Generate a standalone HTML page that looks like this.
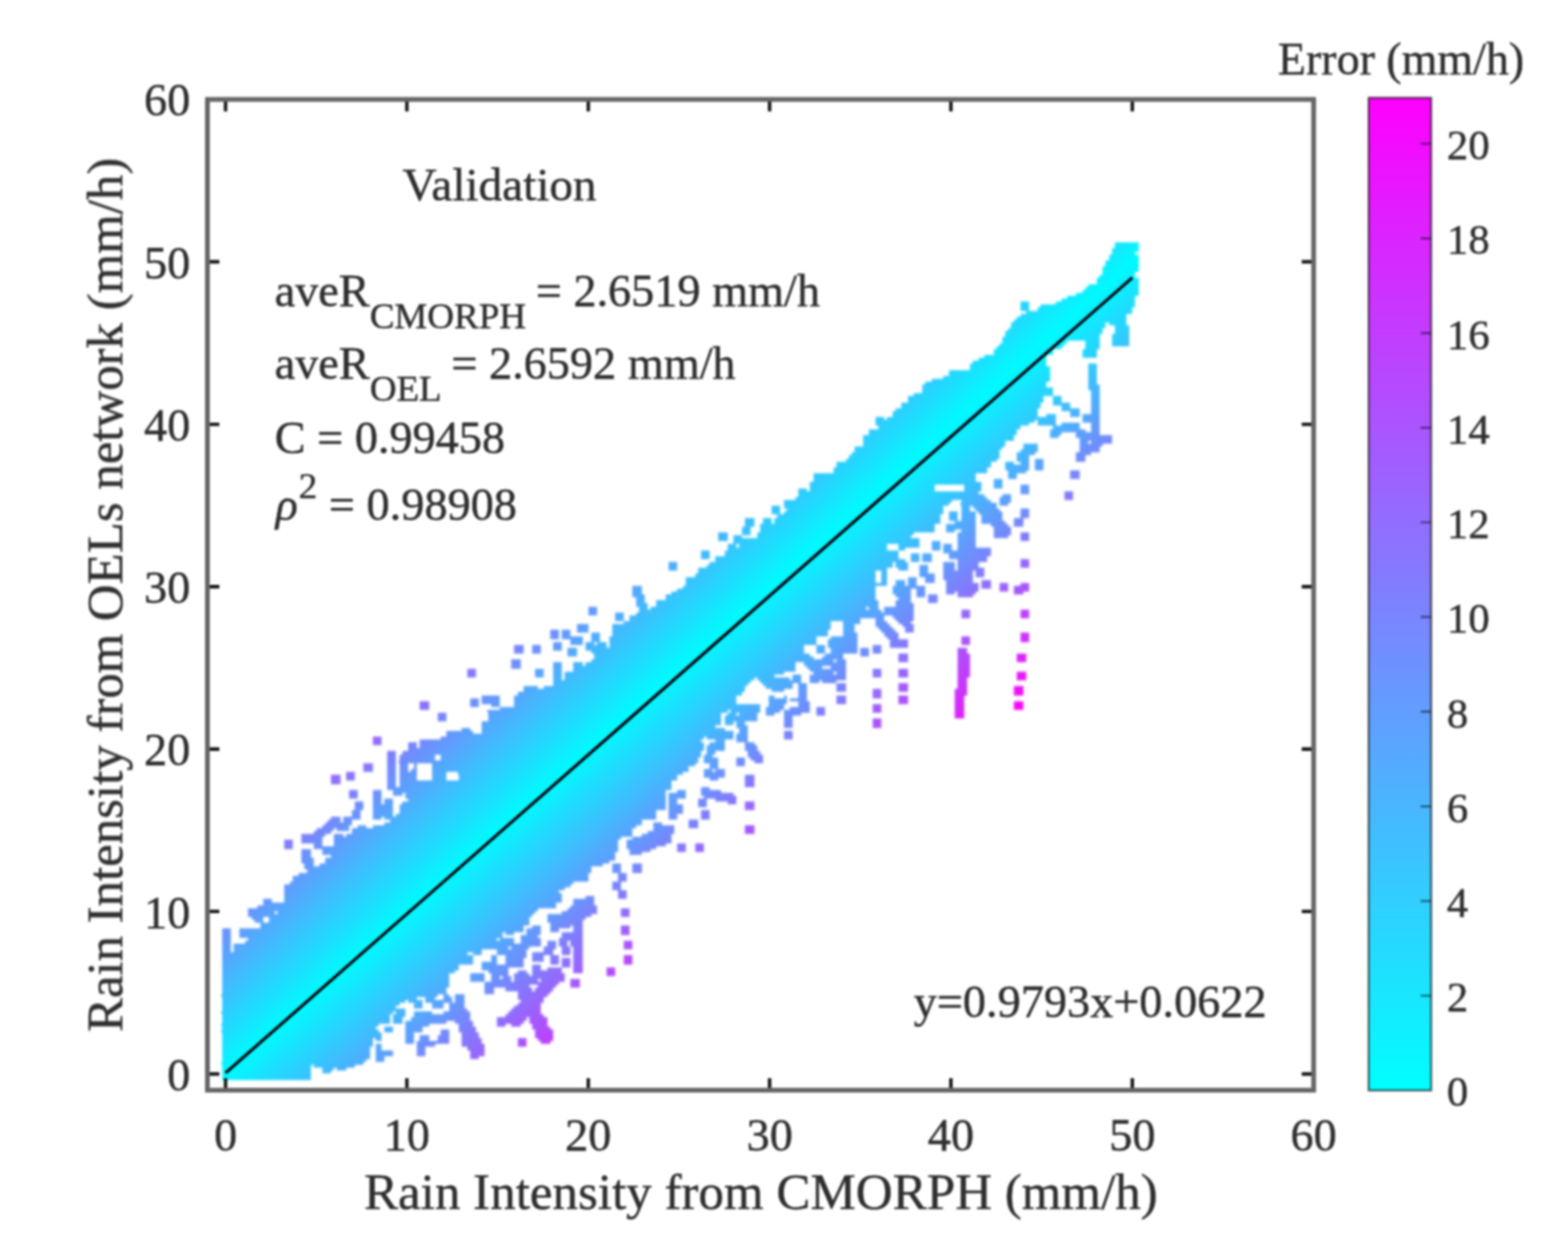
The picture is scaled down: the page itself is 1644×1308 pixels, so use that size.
<!DOCTYPE html>
<html lang="en">
<head>
<meta charset="utf-8">
<title>Validation scatter: Rain Intensity from OELs network vs CMORPH</title>
<style>
html,body{margin:0;padding:0;background:#fff;}
body{width:1644px;height:1308px;overflow:hidden;}
svg{display:block;}
text{font-family:'Liberation Serif', serif;fill:#2e2e2e;stroke:#2e2e2e;stroke-width:0.45px;stroke-linejoin:round;}
</style>
</head>
<body>
<svg width="1644" height="1308" viewBox="0 0 1644 1308">
<rect x="0" y="0" width="1644" height="1308" fill="#ffffff"/>
<defs>
<filter id="soft" x="-2%" y="-2%" width="104%" height="104%" color-interpolation-filters="sRGB"><feGaussianBlur stdDeviation="1.0"/></filter>
<filter id="softer" x="-2%" y="-2%" width="104%" height="104%" color-interpolation-filters="sRGB"><feGaussianBlur stdDeviation="1.8"/></filter>
</defs>
<g filter="url(#softer)">
<defs><linearGradient id="sg" gradientUnits="userSpaceOnUse" x1="711.84" y1="700.00" x2="889.24" y2="898.14" spreadMethod="reflect"><stop offset="0.0000" stop-color="#00faff"/><stop offset="1.0000" stop-color="#fa05fa"/></linearGradient></defs>
<path d="M232.5 973.4h9.3v24.8h-9.3zM232.5 1116h93v15.5h-93zM232.5 1112.9h148.8v3.1h-148.8zM232.5 1109.8h151.9v3.1h-151.9zM232.5 1097.4h155v12.4h-155zM232.5 1088.1h158.1v9.3h-158.1zM232.5 1075.7h161.2v3.1h-161.2zM232.5 1072.6h164.3v3.1h-164.3zM232.5 1078.8h164.3v3.1h-164.3zM232.5 1081.9h167.4v6.2h-167.4zM232.5 1063.3h176.7v9.3h-176.7zM232.5 1060.2h179.8v3.1h-179.8zM232.5 1054h182.9v3.1h-182.9zM232.5 1050.9h186v3.1h-186zM232.5 1047.8h192.2v3.1h-192.2zM232.5 1057.1h192.2v3.1h-192.2zM232.5 1044.7h204.6v3.1h-204.6zM232.5 1041.6h226.3v3.1h-226.3zM232.5 1035.4h235.6v6.2h-235.6zM232.5 1019.9h238.7v15.5h-238.7zM232.5 1016.8h244.9v3.1h-244.9zM232.5 1010.6h248v6.2h-248zM232.5 998.2h257.3v3.1h-257.3zM232.5 1001.3h263.5v9.3h-263.5zM244.9 995.1h260.4v3.1h-260.4zM244.9 992h288.3v3.1h-288.3zM244.9 988.9h322.4v3.1h-322.4zM251.1 976.5h275.9v6.2h-275.9zM251.1 973.4h297.6v3.1h-297.6zM257.3 985.8h282.1v3.1h-282.1zM260.4 954.8h27.9v3.1h-27.9zM260.4 982.7h260.4v3.1h-260.4zM260.4 957.9h297.6v3.1h-297.6zM260.4 951.7h303.8v3.1h-303.8zM263.5 961h12.4v3.1h-12.4zM266.6 964.1h9.3v3.1h-9.3zM269.7 948.6h313.1v3.1h-313.1zM272.8 970.3h275.9v3.1h-275.9zM272.8 967.2h282.1v3.1h-282.1zM275.9 942.4h9.3v3.1h-9.3zM275.9 945.5h306.9v3.1h-306.9zM282.1 961h272.8v6.2h-272.8zM291.4 954.8h269.7v3.1h-269.7zM297.6 880.4h9.3v9.3h-9.3zM297.6 933.1h288.3v3.1h-288.3zM297.6 936.2h291.4v9.3h-291.4zM297.6 930h294.5v3.1h-294.5zM297.6 926.9h300.7v3.1h-300.7zM303.8 923.8h297.6v3.1h-297.6zM306.9 917.6h310v6.2h-310zM313.1 914.5h303.8v3.1h-303.8zM316.2 889.7h9.3v9.3h-9.3zM316.2 899h12.4v6.2h-12.4zM316.2 877.3h21.7v6.2h-21.7zM316.2 874.2h24.8v3.1h-24.8zM319.3 905.2h9.3v3.1h-9.3zM319.3 908.3h300.7v3.1h-300.7zM322.4 911.4h297.6v3.1h-297.6zM328.6 883.5h9.3v3.1h-9.3zM328.6 871.1h18.6v3.1h-18.6zM328.6 1116h43.4v3.1h-43.4zM328.6 886.6h319.3v3.1h-319.3zM331.7 868h18.6v3.1h-18.6zM334.8 905.2h297.6v3.1h-297.6zM337.9 1122.2h9.3v3.1h-9.3zM337.9 1119.1h12.4v3.1h-12.4zM337.9 864.9h27.9v3.1h-27.9zM337.9 892.8h306.9v3.1h-306.9zM337.9 889.7h310v3.1h-310zM341 861.8h27.9v3.1h-27.9zM341 902.1h297.6v3.1h-297.6zM341 899h303.8v3.1h-303.8zM344.1 858.7h12.4v3.1h-12.4zM347.2 812.2h9.3v9.3h-9.3zM347.2 855.6h9.3v3.1h-9.3zM347.2 895.9h297.6v3.1h-297.6zM350.3 874.2h9.3v3.1h-9.3zM350.3 880.4h297.6v6.2h-297.6zM350.3 877.3h300.7v3.1h-300.7zM353.4 1119.1h9.3v3.1h-9.3zM353.4 868h12.4v3.1h-12.4zM359.6 858.7h9.3v3.1h-9.3zM359.6 855.6h18.6v3.1h-18.6zM362.7 809.1h9.3v9.3h-9.3zM362.7 874.2h300.7v3.1h-300.7zM365.8 827.7h9.3v9.3h-9.3zM368.9 849.4h9.3v6.2h-9.3zM368.9 868h294.5v6.2h-294.5zM372 840.1h9.3v9.3h-9.3zM375.1 864.9h9.3v3.1h-9.3zM381.3 799.8h9.3v9.3h-9.3zM390.6 771.9h9.3v9.3h-9.3zM390.6 827.7h9.3v15.5h-9.3zM390.6 855.6h9.3v3.1h-9.3zM390.6 843.2h21.7v12.4h-21.7zM390.6 864.9h275.9v3.1h-275.9zM393.7 1088.1h6.2v3.1h-6.2zM393.7 1094.3h6.2v6.2h-6.2zM393.7 1106.7h9.3v6.2h-9.3zM393.7 1100.5h18.6v6.2h-18.6zM403 837h9.3v6.2h-9.3zM403 1075.7h9.3v6.2h-9.3zM403 861.8h269.7v3.1h-269.7zM403 855.6h285.2v3.1h-285.2zM406.1 787.4h9.3v37.2h-9.3zM406.1 824.6h297.6v3.1h-297.6zM409.2 858.7h263.5v3.1h-263.5zM412.3 830.8h9.3v3.1h-9.3zM412.3 1066.4h9.3v6.2h-9.3zM412.3 1063.3h12.4v3.1h-12.4zM412.3 827.7h285.2v3.1h-285.2zM415.4 1060.2h9.3v3.1h-9.3zM415.4 852.5h272.8v3.1h-272.8zM418.5 799.8h9.3v9.3h-9.3zM418.5 809.1h18.6v9.3h-18.6zM418.5 790.5h37.2v6.2h-37.2zM418.5 849.4h269.7v3.1h-269.7zM418.5 843.2h279v6.2h-279zM418.5 818.4h285.2v6.2h-285.2zM418.5 796.7h313.1v3.1h-313.1zM421.6 840.1h275.9v3.1h-275.9zM421.6 787.4h313.1v3.1h-313.1zM424.7 1081.9h9.3v12.4h-9.3zM424.7 1075.7h18.6v6.2h-18.6zM424.7 1072.6h24.8v3.1h-24.8zM424.7 1069.5h43.4v3.1h-43.4zM424.7 830.8h272.8v6.2h-272.8zM427.8 778.1h9.3v6.2h-9.3zM427.8 1047.8h15.5v3.1h-15.5zM427.8 837h269.7v3.1h-269.7zM427.8 784.3h310v3.1h-310zM430.9 806h6.2v3.1h-6.2zM430.9 1066.4h62v3.1h-62zM434 799.8h3.1v6.2h-3.1zM434 1050.9h9.3v6.2h-9.3zM434 1060.2h18.6v3.1h-18.6zM434 1063.3h58.9v3.1h-58.9zM437.1 1097.4h9.3v9.3h-9.3zM437.1 1094.3h18.6v3.1h-18.6zM437.1 1091.2h34.1v3.1h-34.1zM440.2 734.7h9.3v9.3h-9.3zM440.2 1085h9.3v6.2h-9.3zM440.2 775h294.5v3.1h-294.5zM440.2 778.1h297.6v6.2h-297.6zM446.4 1044.7h9.3v3.1h-9.3zM446.4 1047.8h27.9v3.1h-27.9zM452.6 1050.9h12.4v6.2h-12.4zM452.6 809.1h15.5v9.3h-15.5zM452.6 802.9h269.7v6.2h-269.7zM452.6 799.8h275.9v3.1h-275.9zM458.8 747.1h9.3v9.3h-9.3zM458.8 1085h12.4v6.2h-12.4zM461.9 1078.8h9.3v6.2h-9.3zM461.9 793.6h269.7v3.1h-269.7zM461.9 790.5h272.8v3.1h-272.8zM461.9 771.9h275.9v3.1h-275.9zM465 1041.6h6.2v3.1h-6.2zM465 1044.7h9.3v3.1h-9.3zM465 1060.2h27.9v3.1h-27.9zM468.1 765.7h27.9v3.1h-27.9zM468.1 768.8h300.7v3.1h-300.7zM471.2 1050.9h15.5v6.2h-15.5zM471.2 1057.1h18.6v3.1h-18.6zM477.4 1041.6h9.3v9.3h-9.3zM477.4 1069.5h18.6v3.1h-18.6zM480.5 1072.6h15.5v3.1h-15.5zM480.5 1075.7h18.6v6.2h-18.6zM480.5 812.2h229.4v6.2h-229.4zM480.5 809.1h235.6v3.1h-235.6zM483.6 762.6h9.3v3.1h-9.3zM483.6 1081.9h18.6v6.2h-18.6zM483.6 1088.1h21.7v6.2h-21.7zM483.6 1094.3h24.8v3.1h-24.8zM489.8 700.6h9.3v9.3h-9.3zM489.8 1097.4h18.6v3.1h-18.6zM492.9 731.6h9.3v9.3h-9.3zM492.9 1106.7h9.3v3.1h-9.3zM492.9 1019.9h15.5v9.3h-15.5zM492.9 1100.5h15.5v6.2h-15.5zM496 998.2h9.3v3.1h-9.3zM505.3 1007.5h15.5v3.1h-15.5zM505.3 728.5h18.6v9.3h-18.6zM505.3 1013.7h27.9v3.1h-27.9zM505.3 1010.6h43.4v3.1h-43.4zM505.3 759.5h244.9v3.1h-244.9zM505.3 756.4h251.1v3.1h-251.1zM505.3 762.6h254.2v3.1h-254.2zM505.3 765.7h263.5v3.1h-263.5zM508.4 1035.4h9.3v6.2h-9.3zM508.4 1032.3h46.5v3.1h-46.5zM508.4 1029.2h77.5v3.1h-77.5zM511.5 1016.8h21.7v3.1h-21.7zM511.5 747.1h244.9v9.3h-244.9zM511.5 744h251.1v3.1h-251.1zM514.6 1001.3h6.2v6.2h-6.2zM514.6 737.8h9.3v3.1h-9.3zM514.6 1023h9.3v3.1h-9.3zM514.6 1019.9h18.6v3.1h-18.6zM514.6 1026.1h21.7v3.1h-21.7zM520.8 1072.6h9.3v3.1h-9.3zM520.8 1069.5h27.9v3.1h-27.9zM520.8 995.1h31v6.2h-31zM520.8 1066.4h31v3.1h-31zM523.9 982.7h15.5v3.1h-15.5zM523.9 740.9h272.8v3.1h-272.8zM527 1023h9.3v3.1h-9.3zM530.1 976.5h9.3v3.1h-9.3zM530.1 1004.4h18.6v6.2h-18.6zM530.1 1001.3h21.7v3.1h-21.7zM530.1 1035.4h27.9v3.1h-27.9zM530.1 1063.3h40.3v3.1h-40.3zM533.2 1060.2h34.1v3.1h-34.1zM536.3 691.3h9.3v9.3h-9.3zM536.3 1072.6h9.3v3.1h-9.3zM536.3 992h18.6v3.1h-18.6zM536.3 1057.1h31v3.1h-31zM539.4 675.8h9.3v9.3h-9.3zM539.4 1019.9h15.5v3.1h-15.5zM539.4 1026.1h24.8v3.1h-24.8zM539.4 1054h27.9v3.1h-27.9zM539.4 1023h52.7v3.1h-52.7zM539.4 728.5h232.5v9.3h-232.5zM539.4 737.8h257.3v3.1h-257.3zM542.5 1016.8h9.3v3.1h-9.3zM542.5 1088.1h9.3v9.3h-9.3zM542.5 1050.9h24.8v3.1h-24.8zM542.5 1044.7h27.9v3.1h-27.9zM542.5 1041.6h31v3.1h-31zM542.5 1038.5h34.1v3.1h-34.1zM542.5 725.4h235.6v3.1h-235.6zM545.6 979.6h18.6v3.1h-18.6zM545.6 982.7h21.7v6.2h-21.7zM545.6 1047.8h24.8v3.1h-24.8zM548.7 719.2h15.5v3.1h-15.5zM548.7 722.3h232.5v3.1h-232.5zM551.8 973.4h15.5v6.2h-15.5zM554.9 1066.4h18.6v6.2h-18.6zM558 675.8h9.3v9.3h-9.3zM558 970.3h9.3v3.1h-9.3zM558 1010.6h9.3v6.2h-9.3zM558 1001.3h12.4v6.2h-12.4zM558 1072.6h15.5v3.1h-15.5zM558 1075.7h18.6v3.1h-18.6zM558 998.2h21.7v3.1h-21.7zM558 1016.8h31v3.1h-31zM558 1019.9h34.1v3.1h-34.1zM561.1 700.6h9.3v9.3h-9.3zM561.1 1035.4h18.6v3.1h-18.6zM561.1 1078.8h18.6v9.3h-18.6zM564.2 1088.1h15.5v3.1h-15.5zM564.2 1032.3h18.6v3.1h-18.6zM567.3 1091.2h9.3v3.1h-9.3zM567.3 1026.1h24.8v3.1h-24.8zM570.4 995.1h9.3v3.1h-9.3zM570.4 992h12.4v3.1h-12.4zM570.4 719.2h210.8v3.1h-210.8zM573.5 985.8h9.3v6.2h-9.3zM573.5 1013.7h15.5v3.1h-15.5zM573.5 964.1h37.2v3.1h-37.2zM573.5 961h40.3v3.1h-40.3zM573.5 957.9h46.5v3.1h-46.5zM576.6 660.3h9.3v9.3h-9.3zM576.6 973.4h9.3v3.1h-9.3zM576.6 1001.3h9.3v9.3h-9.3zM576.6 970.3h21.7v3.1h-21.7zM576.6 967.2h34.1v3.1h-34.1zM579.7 672.7h9.3v9.3h-9.3zM579.7 694.4h9.3v18.6h-9.3zM579.7 716.1h204.6v3.1h-204.6zM579.7 713h207.7v3.1h-207.7zM585.9 985.8h9.3v6.2h-9.3zM585.9 982.7h24.8v3.1h-24.8zM589 660.3h9.3v6.2h-9.3zM589 992h9.3v9.3h-9.3zM589 1004.4h9.3v9.3h-9.3zM589 666.5h21.7v3.1h-21.7zM589 976.5h21.7v6.2h-21.7zM589 954.8h37.2v3.1h-37.2zM592.1 709.9h198.4v3.1h-198.4zM592.1 706.8h220.1v3.1h-220.1zM592.1 703.7h229.4v3.1h-229.4zM595.2 678.9h9.3v9.3h-9.3zM595.2 951.7h31v3.1h-31zM598.3 1026.1h9.3v9.3h-9.3zM598.3 669.6h12.4v6.2h-12.4zM598.3 985.8h12.4v6.2h-12.4zM598.3 948.6h27.9v3.1h-27.9zM601.4 694.4h9.3v3.1h-9.3zM601.4 970.3h9.3v6.2h-9.3zM601.4 992h9.3v27.9h-9.3zM601.4 942.4h21.7v6.2h-21.7zM601.4 697.5h232.5v6.2h-232.5zM604.5 654.1h12.4v9.3h-12.4zM613.8 672.7h9.3v3.1h-9.3zM613.8 939.3h9.3v3.1h-9.3zM613.8 675.8h21.7v3.1h-21.7zM613.8 694.4h220.1v3.1h-220.1zM613.8 678.9h229.4v3.1h-229.4zM616.9 635.5h9.3v9.3h-9.3zM620 663.4h9.3v9.3h-9.3zM620 682h223.2v3.1h-223.2zM620 691.3h254.2v3.1h-254.2zM623.1 685.1h226.3v3.1h-226.3zM623.1 688.2h229.4v3.1h-229.4zM626.2 672.7h9.3v3.1h-9.3zM635.5 1013.7h9.3v9.3h-9.3zM638.6 675.8h204.6v3.1h-204.6zM638.6 666.5h217v9.3h-217zM641.7 905.2h9.3v9.3h-9.3zM641.7 923.8h9.3v9.3h-9.3zM641.7 660.3h226.3v6.2h-226.3zM641.7 654.1h229.4v6.2h-229.4zM644.8 641.7h9.3v9.3h-9.3zM647.9 914.5h9.3v9.3h-9.3zM647.9 933.1h9.3v9.3h-9.3zM651 951.7h9.3v9.3h-9.3zM651 970.3h9.3v9.3h-9.3zM654.1 985.8h9.3v9.3h-9.3zM654.1 1001.3h9.3v9.3h-9.3zM654.1 651h217v3.1h-217zM657.2 886.6h31v3.1h-31zM657.2 883.5h40.3v3.1h-40.3zM657.2 880.4h46.5v3.1h-46.5zM660.3 892.8h12.4v3.1h-12.4zM660.3 889.7h21.7v3.1h-21.7zM660.3 647.9h241.8v3.1h-241.8zM660.3 644.8h266.6v3.1h-266.6zM663.4 613.8h9.3v9.3h-9.3zM663.4 905.2h9.3v9.3h-9.3zM663.4 623.1h12.4v3.1h-12.4zM663.4 877.3h40.3v3.1h-40.3zM666.5 626.2h9.3v6.2h-9.3zM666.5 632.4h12.4v3.1h-12.4zM666.5 641.7h291.4v3.1h-291.4zM669.6 635.5h9.3v3.1h-9.3zM669.6 638.6h254.2v3.1h-254.2zM672.7 874.2h31v3.1h-31zM678.9 871.1h27.9v3.1h-27.9zM682 635.5h226.3v3.1h-226.3zM685.1 861.8h9.3v3.1h-9.3zM685.1 864.9h21.7v6.2h-21.7zM688.2 629.3h232.5v6.2h-232.5zM697.5 623.1h220.1v6.2h-220.1zM700.6 589h9.3v9.3h-9.3zM700.6 837h9.3v6.2h-9.3zM700.6 852.5h9.3v6.2h-9.3zM700.6 843.2h15.5v9.3h-15.5zM700.6 830.8h18.6v6.2h-18.6zM703.7 620h213.9v3.1h-213.9zM709.9 827.7h9.3v3.1h-9.3zM709.9 883.5h9.3v9.3h-9.3zM709.9 616.9h207.7v3.1h-207.7zM716.1 613.8h201.5v3.1h-201.5zM719.2 604.5h198.4v6.2h-198.4zM719.2 610.7h210.8v3.1h-210.8zM722.3 858.7h9.3v9.3h-9.3zM728.5 883.5h9.3v9.3h-9.3zM728.5 601.4h189.1v3.1h-189.1zM731.6 837h9.3v9.3h-9.3zM731.6 598.3h186v3.1h-186zM731.6 595.2h198.4v3.1h-198.4zM734.7 576.6h9.3v9.3h-9.3zM734.7 824.6h9.3v3.1h-9.3zM734.7 849.4h9.3v9.3h-9.3zM734.7 827.7h21.7v3.1h-21.7zM734.7 830.8h34.1v3.1h-34.1zM737.8 790.5h9.3v3.1h-9.3zM737.8 806h9.3v3.1h-9.3zM737.8 793.6h15.5v6.2h-15.5zM737.8 809.1h21.7v6.2h-21.7zM737.8 833.9h34.1v3.1h-34.1zM740.9 787.4h9.3v3.1h-9.3zM740.9 781.2h18.6v6.2h-18.6zM740.9 771.9h27.9v3.1h-27.9zM740.9 592.1h195.3v3.1h-195.3zM744 799.8h9.3v6.2h-9.3zM744 815.3h9.3v3.1h-9.3zM744 778.1h15.5v3.1h-15.5zM744 589h192.2v3.1h-192.2zM750.2 775h9.3v3.1h-9.3zM750.2 806h9.3v3.1h-9.3zM750.2 837h21.7v3.1h-21.7zM750.2 582.8h192.2v3.1h-192.2zM750.2 585.9h198.4v3.1h-198.4zM753.3 558h9.3v9.3h-9.3zM759.5 756.4h9.3v3.1h-9.3zM759.5 750.2h34.1v6.2h-34.1zM759.5 576.6h182.9v6.2h-182.9zM762.6 570.4h9.3v3.1h-9.3zM762.6 747.1h9.3v3.1h-9.3zM762.6 840.1h9.3v3.1h-9.3zM762.6 573.5h167.4v3.1h-167.4zM765.7 744h31v3.1h-31zM768.8 561.1h9.3v3.1h-9.3zM768.8 564.2h195.3v6.2h-195.3zM771.9 756.4h9.3v3.1h-9.3zM771.9 793.6h9.3v9.3h-9.3zM771.9 759.5h12.4v3.1h-12.4zM771.9 768.8h12.4v9.3h-12.4zM775 762.6h9.3v6.2h-9.3zM775 747.1h18.6v3.1h-18.6zM775 570.4h155v3.1h-155zM778.1 551.8h9.3v9.3h-9.3zM781.2 542.5h9.3v9.3h-9.3zM781.2 778.1h9.3v3.1h-9.3zM781.2 812.2h9.3v12.4h-9.3zM781.2 840.1h9.3v9.3h-9.3zM781.2 864.9h9.3v9.3h-9.3zM781.2 781.2h12.4v6.2h-12.4zM784.3 787.4h12.4v3.1h-12.4zM784.3 790.5h15.5v3.1h-15.5zM787.4 793.6h12.4v3.1h-12.4zM790.5 796.7h9.3v3.1h-9.3zM793.6 709.9h34.1v3.1h-34.1zM793.6 561.1h161.2v3.1h-161.2zM793.6 558h164.3v3.1h-164.3zM796.7 713h43.4v3.1h-43.4zM796.7 548.7h182.9v9.3h-182.9zM799.8 542.5h9.3v6.2h-9.3zM799.8 716.1h31v3.1h-31zM802.9 747.1h9.3v3.1h-9.3zM802.9 744h15.5v3.1h-15.5zM802.9 740.9h18.6v3.1h-18.6zM802.9 719.2h27.9v3.1h-27.9zM806 728.5h6.2v3.1h-6.2zM806 737.8h15.5v3.1h-15.5zM806 731.6h18.6v6.2h-18.6zM809.1 530.1h9.3v9.3h-9.3zM809.1 722.3h12.4v3.1h-12.4zM812.2 542.5h173.6v6.2h-173.6zM815.3 539.4h170.5v3.1h-170.5zM821.5 728.5h3.1v3.1h-3.1zM821.5 750.2h9.3v12.4h-9.3zM821.5 765.7h9.3v9.3h-9.3zM821.5 747.1h18.6v3.1h-18.6zM821.5 744h27.9v3.1h-27.9zM821.5 530.1h167.4v3.1h-167.4zM821.5 536.3h167.4v3.1h-167.4zM821.5 527h173.6v3.1h-173.6zM821.5 523.9h176.7v3.1h-176.7zM824.6 533.2h164.3v3.1h-164.3zM827.7 731.6h18.6v3.1h-18.6zM827.7 740.9h21.7v3.1h-21.7zM830.8 706.8h9.3v6.2h-9.3zM833.9 520.8h201.5v3.1h-201.5zM837 511.5h9.3v3.1h-9.3zM837 716.1h9.3v15.5h-9.3zM837 734.7h12.4v6.2h-12.4zM837 514.6h189.1v3.1h-189.1zM837 517.7h195.3v3.1h-195.3zM843.2 694.4h43.4v3.1h-43.4zM846.3 697.5h15.5v3.1h-15.5zM849.4 713h9.3v3.1h-9.3zM849.4 700.6h37.2v3.1h-37.2zM849.4 706.8h37.2v6.2h-37.2zM849.4 508.4h130.2v6.2h-130.2zM849.4 505.3h179.8v3.1h-179.8zM852.5 703.7h21.7v3.1h-21.7zM852.5 496h170.5v9.3h-170.5zM855.6 675.8h9.3v9.3h-9.3zM855.6 740.9h9.3v9.3h-9.3zM861.8 713h15.5v3.1h-15.5zM861.8 688.2h21.7v3.1h-21.7zM864.9 685.1h18.6v3.1h-18.6zM868 669.6h31v9.3h-31zM871.1 697.5h15.5v3.1h-15.5zM871.1 666.5h27.9v3.1h-27.9zM871.1 678.9h27.9v6.2h-27.9zM874.2 489.8h161.2v6.2h-161.2zM877.3 691.3h9.3v3.1h-9.3zM877.3 703.7h9.3v3.1h-9.3zM877.3 716.1h9.3v9.3h-9.3zM877.3 728.5h9.3v9.3h-9.3zM877.3 483.6h161.2v6.2h-161.2zM883.5 654.1h12.4v9.3h-12.4zM883.5 663.4h15.5v3.1h-15.5zM883.5 651h18.6v3.1h-18.6zM886.6 480.5h158.1v3.1h-158.1zM889.7 477.4h158.1v3.1h-158.1zM892.8 474.3h155v3.1h-155zM895.9 471.2h151.9v3.1h-151.9zM895.9 468.1h155v3.1h-155zM902.1 678.9h9.3v9.3h-9.3zM905.2 461.9h148.8v6.2h-148.8zM905.2 455.7h158.1v6.2h-158.1zM911.4 635.5h9.3v3.1h-9.3zM911.4 449.5h155v6.2h-155zM914.5 675.8h9.3v9.3h-9.3zM914.5 700.6h9.3v9.3h-9.3zM914.5 722.3h9.3v9.3h-9.3zM914.5 737.8h9.3v9.3h-9.3zM914.5 753.3h9.3v9.3h-9.3zM917.6 437.1h9.3v3.1h-9.3zM917.6 647.9h9.3v3.1h-9.3zM917.6 651h12.4v3.1h-12.4zM917.6 654.1h15.5v3.1h-15.5zM917.6 443.3h161.2v3.1h-161.2zM917.6 440.2h167.4v3.1h-167.4zM920.7 657.2h15.5v3.1h-15.5zM920.7 446.4h148.8v3.1h-148.8zM923.8 598.3h6.2v12.4h-6.2zM923.8 660.3h15.5v3.1h-15.5zM926.9 663.4h15.5v3.1h-15.5zM926.9 635.5h31v6.2h-31zM930 666.5h12.4v3.1h-12.4zM930 437.1h176.7v3.1h-176.7zM933.1 669.6h18.6v9.3h-18.6zM936.2 616.9h18.6v6.2h-18.6zM936.2 644.8h21.7v3.1h-21.7zM936.2 613.8h34.1v3.1h-34.1zM936.2 430.9h151.9v6.2h-151.9zM939.3 607.6h9.3v6.2h-9.3zM939.3 589h12.4v6.2h-12.4zM939.3 623.1h15.5v3.1h-15.5zM939.3 629.3h15.5v3.1h-15.5zM939.3 632.4h18.6v3.1h-18.6zM939.3 647.9h18.6v3.1h-18.6zM939.3 427.8h148.8v3.1h-148.8zM942.4 573.5h6.2v3.1h-6.2zM942.4 595.2h9.3v3.1h-9.3zM942.4 685.1h9.3v9.3h-9.3zM942.4 700.6h9.3v9.3h-9.3zM942.4 716.1h9.3v9.3h-9.3zM942.4 728.5h9.3v9.3h-9.3zM942.4 626.2h12.4v3.1h-12.4zM942.4 651h12.4v3.1h-12.4zM942.4 570.4h21.7v3.1h-21.7zM945.5 654.1h12.4v3.1h-12.4zM945.5 421.6h145.7v6.2h-145.7zM948.6 657.2h9.3v6.2h-9.3zM951.7 604.5h9.3v9.3h-9.3zM951.7 415.4h142.6v6.2h-142.6zM954.8 579.7h9.3v9.3h-9.3zM957.9 412.3h145.7v3.1h-145.7zM961 616.9h9.3v9.3h-9.3zM964.1 592.1h9.3v9.3h-9.3zM964.1 601.4h15.5v3.1h-15.5zM967.2 579.7h9.3v9.3h-9.3zM967.2 403h130.2v3.1h-130.2zM967.2 406.1h136.4v6.2h-136.4zM970.3 604.5h9.3v6.2h-9.3zM970.3 399.9h127.1v3.1h-127.1zM973.4 623.1h9.3v9.3h-9.3zM976.5 567.3h9.3v9.3h-9.3zM976.5 396.8h124v3.1h-124zM988.9 570.4h9.3v6.2h-9.3zM988.9 589h12.4v9.3h-12.4zM988.9 598.3h31v9.3h-31zM988.9 576.6h49.6v3.1h-49.6zM988.9 393.7h111.6v3.1h-111.6zM992 554.9h9.3v3.1h-9.3zM992 620h9.3v3.1h-9.3zM992 607.6h27.9v3.1h-27.9zM992 548.7h31v6.2h-31zM992 610.7h34.1v9.3h-34.1zM995.1 536.3h9.3v9.3h-9.3zM995.1 582.8h40.3v3.1h-40.3zM995.1 579.7h43.4v3.1h-43.4zM995.1 387.5h105.4v6.2h-105.4zM1001.3 728.5h9.3v24.8h-9.3zM1001.3 722.3h12.4v6.2h-12.4zM1001.3 545.6h21.7v3.1h-21.7zM1004.4 678.9h9.3v6.2h-9.3zM1004.4 709.9h9.3v12.4h-9.3zM1004.4 685.1h12.4v24.8h-12.4zM1004.4 623.1h15.5v3.1h-15.5zM1004.4 558h18.6v15.5h-18.6zM1004.4 620h18.6v3.1h-18.6zM1004.4 589h21.7v6.2h-21.7zM1004.4 595.2h27.9v3.1h-27.9zM1004.4 585.9h31v3.1h-31zM1004.4 573.5h34.1v3.1h-34.1zM1007.5 530.1h9.3v6.2h-9.3zM1007.5 638.6h9.3v9.3h-9.3zM1007.5 666.5h9.3v9.3h-9.3zM1007.5 536.3h15.5v9.3h-15.5zM1007.5 554.9h15.5v3.1h-15.5zM1007.5 523.9h31v3.1h-31zM1007.5 527h37.2v3.1h-37.2zM1010.6 508.4h18.6v6.2h-18.6zM1016.8 381.3h80.6v3.1h-80.6zM1016.8 384.4h83.7v3.1h-83.7zM1019.9 530.1h24.8v3.1h-24.8zM1019.9 378.2h77.5v3.1h-77.5zM1023 598.3h9.3v6.2h-9.3zM1023 533.2h24.8v3.1h-24.8zM1026.1 536.3h24.8v3.1h-24.8zM1026.1 375.1h71.3v3.1h-71.3zM1029.2 607.6h9.3v9.3h-9.3zM1029.2 539.4h21.7v6.2h-21.7zM1029.2 545.6h24.8v3.1h-24.8zM1032.3 372h65.1v3.1h-65.1zM1038.5 548.7h18.6v3.1h-18.6zM1041.6 502.2h9.3v9.3h-9.3zM1041.6 561.1h15.5v3.1h-15.5zM1041.6 551.8h18.6v9.3h-18.6zM1041.6 365.8h62v6.2h-62zM1044.7 362.7h68.2v3.1h-68.2zM1047.8 527h9.3v3.1h-9.3zM1047.8 610.7h9.3v9.3h-9.3zM1047.8 520.8h12.4v6.2h-12.4zM1047.8 359.6h68.2v3.1h-68.2zM1050.9 517.7h9.3v3.1h-9.3zM1050.9 356.5h68.2v3.1h-68.2zM1050.9 353.4h102.3v3.1h-102.3zM1054 483.6h9.3v3.1h-9.3zM1054 486.7h24.8v6.2h-24.8zM1054 350.3h99.2v3.1h-99.2zM1054 347.2h102.3v3.1h-102.3zM1057.1 496h9.3v6.2h-9.3zM1057.1 492.9h18.6v3.1h-18.6zM1057.1 344.1h99.2v3.1h-99.2zM1060.2 337.9h99.2v6.2h-99.2zM1063.3 542.5h9.3v9.3h-9.3zM1063.3 620h9.3v3.1h-9.3zM1063.3 719.2h9.3v9.3h-9.3zM1063.3 734.7h9.3v9.3h-9.3zM1063.3 613.8h15.5v6.2h-15.5zM1063.3 334.8h117.8v3.1h-117.8zM1066.4 685.1h9.3v9.3h-9.3zM1066.4 703.7h9.3v9.3h-9.3zM1066.4 477.4h12.4v6.2h-12.4zM1066.4 474.3h18.6v3.1h-18.6zM1066.4 331.7h114.7v3.1h-114.7zM1069.5 316.2h9.3v9.3h-9.3zM1069.5 483.6h9.3v3.1h-9.3zM1069.5 508.4h9.3v9.3h-9.3zM1069.5 533.2h9.3v9.3h-9.3zM1069.5 558h9.3v9.3h-9.3zM1069.5 585.9h9.3v9.3h-9.3zM1069.5 610.7h9.3v3.1h-9.3zM1069.5 638.6h9.3v9.3h-9.3zM1069.5 663.4h9.3v9.3h-9.3zM1069.5 471.2h18.6v3.1h-18.6zM1069.5 328.6h111.6v3.1h-111.6zM1072.6 465h15.5v6.2h-15.5zM1075.7 325.5h111.6v3.1h-111.6zM1085 480.5h9.3v12.4h-9.3zM1088.1 440.2h18.6v6.2h-18.6zM1088.1 322.4h99.2v3.1h-99.2zM1091.2 319.3h99.2v3.1h-99.2zM1097.4 434h9.3v3.1h-9.3zM1100.5 455.7h9.3v3.1h-9.3zM1100.5 452.6h12.4v3.1h-12.4zM1100.5 449.5h37.2v3.1h-37.2zM1103.6 415.4h9.3v6.2h-9.3zM1103.6 421.6h18.6v3.1h-18.6zM1103.6 446.4h27.9v3.1h-27.9zM1106.7 316.2h83.7v3.1h-83.7zM1112.9 424.7h9.3v3.1h-9.3zM1112.9 427.8h18.6v3.1h-18.6zM1112.9 443.3h18.6v3.1h-18.6zM1112.9 313.1h77.5v3.1h-77.5zM1116 514.6h9.3v9.3h-9.3zM1119.1 310h71.3v3.1h-71.3zM1122.2 430.9h9.3v6.2h-9.3zM1122.2 492.9h9.3v9.3h-9.3zM1128.4 477.4h9.3v6.2h-9.3zM1128.4 474.3h15.5v3.1h-15.5zM1128.4 452.6h24.8v3.1h-24.8zM1128.4 455.7h37.2v3.1h-37.2zM1128.4 306.9h65.1v3.1h-65.1zM1131.5 461.9h9.3v3.1h-9.3zM1131.5 468.1h21.7v6.2h-21.7zM1131.5 465h24.8v3.1h-24.8zM1131.5 458.8h34.1v3.1h-34.1zM1134.6 365.8h15.5v9.3h-15.5zM1134.6 434h18.6v9.3h-18.6zM1134.6 303.8h58.9v3.1h-58.9zM1137.7 356.5h15.5v9.3h-15.5zM1137.7 300.7h55.8v3.1h-55.8zM1140.8 381.3h9.3v21.7h-9.3zM1140.8 403h12.4v6.2h-12.4zM1140.8 297.6h52.7v3.1h-52.7zM1143.9 409.2h9.3v24.8h-9.3zM1143.9 443.3h9.3v9.3h-9.3zM1143.9 461.9h21.7v3.1h-21.7zM1150.1 291.4h43.4v6.2h-43.4zM1153.2 288.3h37.2v3.1h-37.2zM1156.3 285.2h34.1v3.1h-34.1zM1156.3 279h37.2v6.2h-37.2zM1159.4 272.8h34.1v6.2h-34.1zM1162.5 337.9h18.6v3.1h-18.6zM1162.5 266.6h31v6.2h-31zM1165.6 350.3h18.6v12.4h-18.6zM1165.6 263.5h24.8v3.1h-24.8zM1165.6 260.4h27.9v3.1h-27.9zM1168.7 341h15.5v9.3h-15.5zM1168.7 254.2h24.8v6.2h-24.8z" fill="url(#sg)" shape-rendering="crispEdges"/>
</g>
<g filter="url(#soft)">
<line x1="236.5" y1="1124.5" x2="1187.2" y2="291.0" stroke="#000a14" stroke-width="3.3"/>
<path d="M236.5 1142.6v-12.5M236.5 104.2v12.5M217.5 1125.6h12.5M1377.3 1125.6h-12.5M426.6 1142.6v-12.5M426.6 104.2v12.5M217.5 955.3h12.5M1377.3 955.3h-12.5M616.8 1142.6v-12.5M616.8 104.2v12.5M217.5 785.1h12.5M1377.3 785.1h-12.5M806.9 1142.6v-12.5M806.9 104.2v12.5M217.5 614.9h12.5M1377.3 614.9h-12.5M997.0 1142.6v-12.5M997.0 104.2v12.5M217.5 444.7h12.5M1377.3 444.7h-12.5M1187.2 1142.6v-12.5M1187.2 104.2v12.5M217.5 274.4h12.5M1377.3 274.4h-12.5M1377.3 1142.6v-12.5M1377.3 104.2v12.5M217.5 104.2h12.5M1377.3 104.2h-12.5" stroke="#141414" stroke-width="3.6" fill="none"/>
<rect x="217.5" y="104.2" width="1159.8" height="1038.4" fill="none" stroke="#666666" stroke-width="5"/>
<g font-size="48.5" text-anchor="middle">
<text x="236.5" y="1205.6">0</text><text x="426.6" y="1205.6">10</text><text x="616.8" y="1205.6">20</text><text x="806.9" y="1205.6">30</text><text x="997.0" y="1205.6">40</text><text x="1187.2" y="1205.6">50</text><text x="1377.3" y="1205.6">60</text>
</g>
<g font-size="48.5" text-anchor="end">
<text x="199.5" y="1142.8">0</text><text x="199.5" y="972.5">10</text><text x="199.5" y="802.3">20</text><text x="199.5" y="632.1">30</text><text x="199.5" y="461.9">40</text><text x="199.5" y="291.6">50</text><text x="199.5" y="121.4">60</text>
</g>
<text x="797.8" y="1267.2" font-size="53.5" text-anchor="middle">Rain Intensity from CMORPH (mm/h)</text>
<text transform="translate(128,623.5) rotate(-90)" font-size="53.3" text-anchor="middle">Rain Intensity from OELs network (mm/h)</text>
<text x="422" y="210" font-size="49.5">Validation</text>
<text x="288" y="321" font-size="48.5">aveR<tspan font-size="38.8" dy="22.8">CMORPH</tspan><tspan dy="-22.8" dx="-2"> = 2.6519 mm/h</tspan></text>
<text x="288" y="397" font-size="48.5">aveR<tspan font-size="38.8" dy="22.8">OEL</tspan><tspan dy="-22.8" dx="-2"> = 2.6592 mm/h</tspan></text>
<text x="288" y="474.5" font-size="48.5">C = 0.99458</text>
<text x="289" y="545" font-size="48.5"><tspan font-style="italic">ρ</tspan><tspan font-size="38.8" dy="-23" dx="1">2</tspan><tspan dy="23"> = 0.98908</tspan></text>
<text x="958" y="1065.5" font-size="48.5">y=0.9793x+0.0622</text>
<defs><linearGradient id="cbg" x1="0" y1="1" x2="0" y2="0">
<stop offset="0" stop-color="#00ffff"/><stop offset="1" stop-color="#ff00ff"/></linearGradient></defs>
<rect x="1435.0" y="102.5" width="65.5" height="1040.3" fill="url(#cbg)"/>
<rect x="1435.0" y="102.5" width="65.5" height="1040.3" fill="none" stroke="#000000" stroke-opacity="0.6" stroke-width="2.2"/>
<path d="M1500.5 1043.6h-11M1500.5 944.4h-11M1500.5 845.1h-11M1500.5 745.9h-11M1500.5 646.7h-11M1500.5 547.5h-11M1500.5 448.3h-11M1500.5 349.1h-11M1500.5 249.8h-11M1500.5 150.6h-11" stroke="#000000" stroke-opacity="0.5" stroke-width="2.2" fill="none"/>
<g font-size="44.8">
<text x="1517" y="1159.4">0</text><text x="1517" y="1060.2">2</text><text x="1517" y="961.0">4</text><text x="1517" y="861.7">6</text><text x="1517" y="762.5">8</text><text x="1517" y="663.3">10</text><text x="1517" y="564.1">12</text><text x="1517" y="464.9">14</text><text x="1517" y="365.7">16</text><text x="1517" y="266.4">18</text><text x="1517" y="167.2">20</text>
</g>
<text x="1469" y="77.5" font-size="48.2" text-anchor="middle">Error (mm/h)</text>
</g>
</svg>
</body>
</html>
